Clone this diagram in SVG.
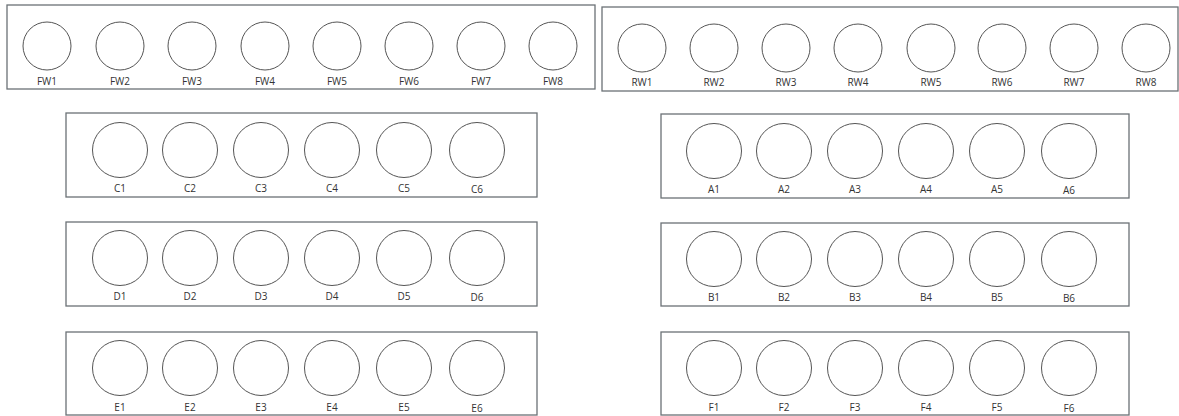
<svg xmlns="http://www.w3.org/2000/svg" width="1179" height="416" viewBox="0 0 1179 416">
<style>
.box{fill:#fff;stroke:#6b7176;stroke-width:1.3}
.s{fill:#fff;stroke:#555;stroke-width:1}
.lb{font-family:"Open Sans","Liberation Sans",sans-serif;font-size:10px;fill:#333;text-anchor:middle}
</style>
<rect width="1179" height="416" fill="#fff"/>
<g id="FW">
<rect class="box" x="7" y="5" width="588" height="84"/>
<circle class="s" cx="47" cy="46" r="24"/><text class="lb" x="47" y="85">FW1</text>
<circle class="s" cx="120" cy="46" r="24"/><text class="lb" x="120" y="85">FW2</text>
<circle class="s" cx="192" cy="46" r="24"/><text class="lb" x="192" y="85">FW3</text>
<circle class="s" cx="265" cy="46" r="24"/><text class="lb" x="265" y="85">FW4</text>
<circle class="s" cx="337" cy="46" r="24"/><text class="lb" x="337" y="85">FW5</text>
<circle class="s" cx="409" cy="46" r="24"/><text class="lb" x="409" y="85">FW6</text>
<circle class="s" cx="481" cy="46" r="24"/><text class="lb" x="481" y="85">FW7</text>
<circle class="s" cx="553" cy="46" r="24"/><text class="lb" x="553" y="85">FW8</text>
</g>
<g id="RW">
<rect class="box" x="602" y="7" width="576" height="84"/>
<circle class="s" cx="642" cy="48" r="24"/><text class="lb" x="642" y="86">RW1</text>
<circle class="s" cx="714" cy="48" r="24"/><text class="lb" x="714" y="86">RW2</text>
<circle class="s" cx="786" cy="48" r="24"/><text class="lb" x="786" y="86">RW3</text>
<circle class="s" cx="858" cy="48" r="24"/><text class="lb" x="858" y="86">RW4</text>
<circle class="s" cx="931" cy="48" r="24"/><text class="lb" x="931" y="86">RW5</text>
<circle class="s" cx="1002" cy="48" r="24"/><text class="lb" x="1002" y="86">RW6</text>
<circle class="s" cx="1074" cy="48" r="24"/><text class="lb" x="1074" y="86">RW7</text>
<circle class="s" cx="1146" cy="48" r="24"/><text class="lb" x="1146" y="86">RW8</text>
</g>
<g id="C">
<rect class="box" x="66" y="113" width="471" height="84"/>
<circle class="s" cx="120" cy="150" r="27.5"/><text class="lb" x="120" y="192">C1</text>
<circle class="s" cx="190" cy="150" r="27.5"/><text class="lb" x="190" y="192">C2</text>
<circle class="s" cx="261" cy="150" r="27.5"/><text class="lb" x="261" y="192">C3</text>
<circle class="s" cx="332" cy="150" r="27.5"/><text class="lb" x="332" y="192">C4</text>
<circle class="s" cx="404" cy="150" r="27.5"/><text class="lb" x="404" y="192">C5</text>
<circle class="s" cx="477" cy="150" r="27.5"/><text class="lb" x="477" y="193">C6</text>
</g>
<g id="D">
<rect class="box" x="66" y="222" width="471" height="84"/>
<circle class="s" cx="120" cy="258" r="27.5"/><text class="lb" x="120" y="300">D1</text>
<circle class="s" cx="190" cy="258" r="27.5"/><text class="lb" x="190" y="300">D2</text>
<circle class="s" cx="261" cy="258" r="27.5"/><text class="lb" x="261" y="300">D3</text>
<circle class="s" cx="332" cy="258" r="27.5"/><text class="lb" x="332" y="300">D4</text>
<circle class="s" cx="404" cy="258" r="27.5"/><text class="lb" x="404" y="300">D5</text>
<circle class="s" cx="477" cy="258" r="27.5"/><text class="lb" x="477" y="301">D6</text>
</g>
<g id="E">
<rect class="box" x="66" y="332" width="471" height="83"/>
<circle class="s" cx="120" cy="368" r="27.5"/><text class="lb" x="120" y="411">E1</text>
<circle class="s" cx="190" cy="368" r="27.5"/><text class="lb" x="190" y="411">E2</text>
<circle class="s" cx="261" cy="368" r="27.5"/><text class="lb" x="261" y="411">E3</text>
<circle class="s" cx="332" cy="368" r="27.5"/><text class="lb" x="332" y="411">E4</text>
<circle class="s" cx="404" cy="368" r="27.5"/><text class="lb" x="404" y="411">E5</text>
<circle class="s" cx="477" cy="368" r="27.5"/><text class="lb" x="477" y="412">E6</text>
</g>
<g id="A">
<rect class="box" x="661" y="114" width="468" height="84"/>
<circle class="s" cx="714" cy="151" r="27.5"/><text class="lb" x="714" y="193">A1</text>
<circle class="s" cx="784" cy="151" r="27.5"/><text class="lb" x="784" y="193">A2</text>
<circle class="s" cx="855" cy="151" r="27.5"/><text class="lb" x="855" y="193">A3</text>
<circle class="s" cx="926" cy="151" r="27.5"/><text class="lb" x="926" y="193">A4</text>
<circle class="s" cx="997" cy="151" r="27.5"/><text class="lb" x="997" y="193">A5</text>
<circle class="s" cx="1069" cy="151" r="27.5"/><text class="lb" x="1069" y="194">A6</text>
</g>
<g id="B">
<rect class="box" x="661" y="223" width="468" height="83"/>
<circle class="s" cx="714" cy="259" r="27.5"/><text class="lb" x="714" y="301">B1</text>
<circle class="s" cx="784" cy="259" r="27.5"/><text class="lb" x="784" y="301">B2</text>
<circle class="s" cx="855" cy="259" r="27.5"/><text class="lb" x="855" y="301">B3</text>
<circle class="s" cx="926" cy="259" r="27.5"/><text class="lb" x="926" y="301">B4</text>
<circle class="s" cx="997" cy="259" r="27.5"/><text class="lb" x="997" y="301">B5</text>
<circle class="s" cx="1069" cy="259" r="27.5"/><text class="lb" x="1069" y="302">B6</text>
</g>
<g id="F">
<rect class="box" x="661" y="332" width="468" height="83"/>
<circle class="s" cx="714" cy="368" r="27.5"/><text class="lb" x="714" y="411">F1</text>
<circle class="s" cx="784" cy="368" r="27.5"/><text class="lb" x="784" y="411">F2</text>
<circle class="s" cx="855" cy="368" r="27.5"/><text class="lb" x="855" y="411">F3</text>
<circle class="s" cx="926" cy="368" r="27.5"/><text class="lb" x="926" y="411">F4</text>
<circle class="s" cx="997" cy="368" r="27.5"/><text class="lb" x="997" y="411">F5</text>
<circle class="s" cx="1069" cy="368" r="27.5"/><text class="lb" x="1069" y="412">F6</text>
</g>
<g id="connectors"/>
</svg>
